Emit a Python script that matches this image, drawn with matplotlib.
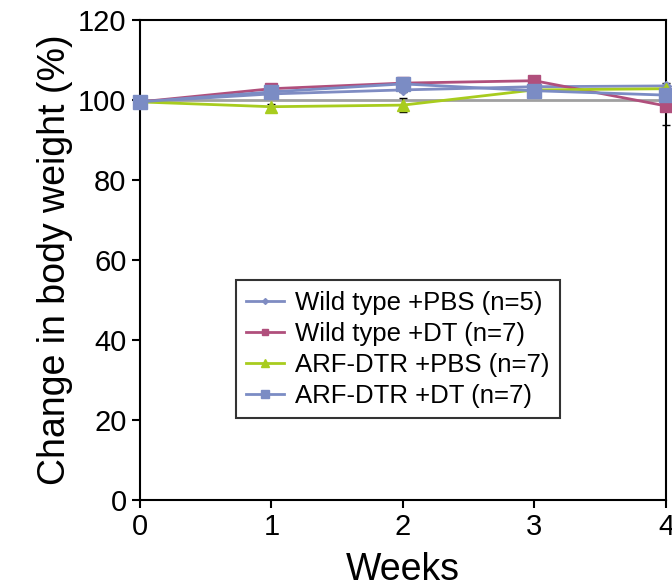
import matplotlib
matplotlib.use("Agg")
import matplotlib.pyplot as plt

plt.rcParams["font.family"] = ["Liberation Sans", "DejaVu Sans"]

weeks = [0, 1, 2, 3, 4]

labels = [
    "Wild type +PBS (n=5)",
    "Wild type +DT (n=7)",
    "ARF-DTR +PBS (n=7)",
    "ARF-DTR +DT (n=7)",
]

wt_pbs = [99.5, 101.5, 102.5, 103.3, 103.5]
wt_dt = [99.5, 102.8, 104.2, 104.8, 98.5]
arf_pbs = [99.5, 98.3, 98.7, 102.5, 102.8]
arf_dt = [99.5, 102.0, 104.0, 102.3, 101.2]

wt_pbs_err = [0.3, 0.5, 0.6, 0.6, 0.7]
wt_dt_err = [0.3, 0.6, 0.7, 1.3, 4.8]
arf_pbs_err = [0.3, 0.6, 1.8, 0.8, 0.8]
arf_dt_err = [0.3, 0.5, 0.6, 0.6, 0.6]

baseline = [100, 100, 100, 100, 100]

series = [wt_pbs, wt_dt, arf_pbs, arf_dt]
errors = [wt_pbs_err, wt_dt_err, arf_pbs_err, arf_dt_err]
colors = ["#7f8cc2", "#b04f7c", "#a8cc1e", "#7b8cc4"]
markers = ["D", "s", "^", "s"]
msizes = [5, 8, 9, 10]

fig = plt.figure(figsize=(6.72, 5.86), dpi=100)
ax = fig.add_axes([0.208, 0.147, 0.783, 0.819])

ax.plot(weeks, baseline, color="#a0a0a0", lw=2, zorder=1)

for vals, err, c, m, ms, lab in zip(series, errors, colors, markers, msizes, labels):
    ax.errorbar(weeks, vals, yerr=err, fmt="none", ecolor="black",
                elinewidth=1.2, capsize=3, zorder=2, clip_on=False)
    ax.plot(weeks, vals, color=c, lw=2, marker=m, markersize=ms,
            markeredgecolor=c, label=lab, zorder=3, clip_on=False)

ax.set_xlim(0, 4)
ax.set_ylim(0, 120)
ax.set_xticks(weeks)
ax.set_yticks(range(0, 121, 20))
ax.tick_params(labelsize=21, width=1.5, length=6, direction="out")
for s in ax.spines.values():
    s.set_linewidth(1.5)

ax.set_xlabel("Weeks", fontsize=27, labelpad=8)
ax.set_ylabel("Change in body weight (%)", fontsize=27, labelpad=4)

handles, labs = ax.get_legend_handles_labels()
leg = ax.legend(handles, labs, loc="center", bbox_to_anchor=(0.49, 0.3135),
                fontsize=18.5, frameon=True, fancybox=False, markerscale=0.6,
                handlelength=1.5, handletextpad=0.4, borderpad=0.4,
                labelspacing=0.28, edgecolor="black")
leg.get_frame().set_linewidth(1.5)

fig.savefig("out.png", dpi=100)
